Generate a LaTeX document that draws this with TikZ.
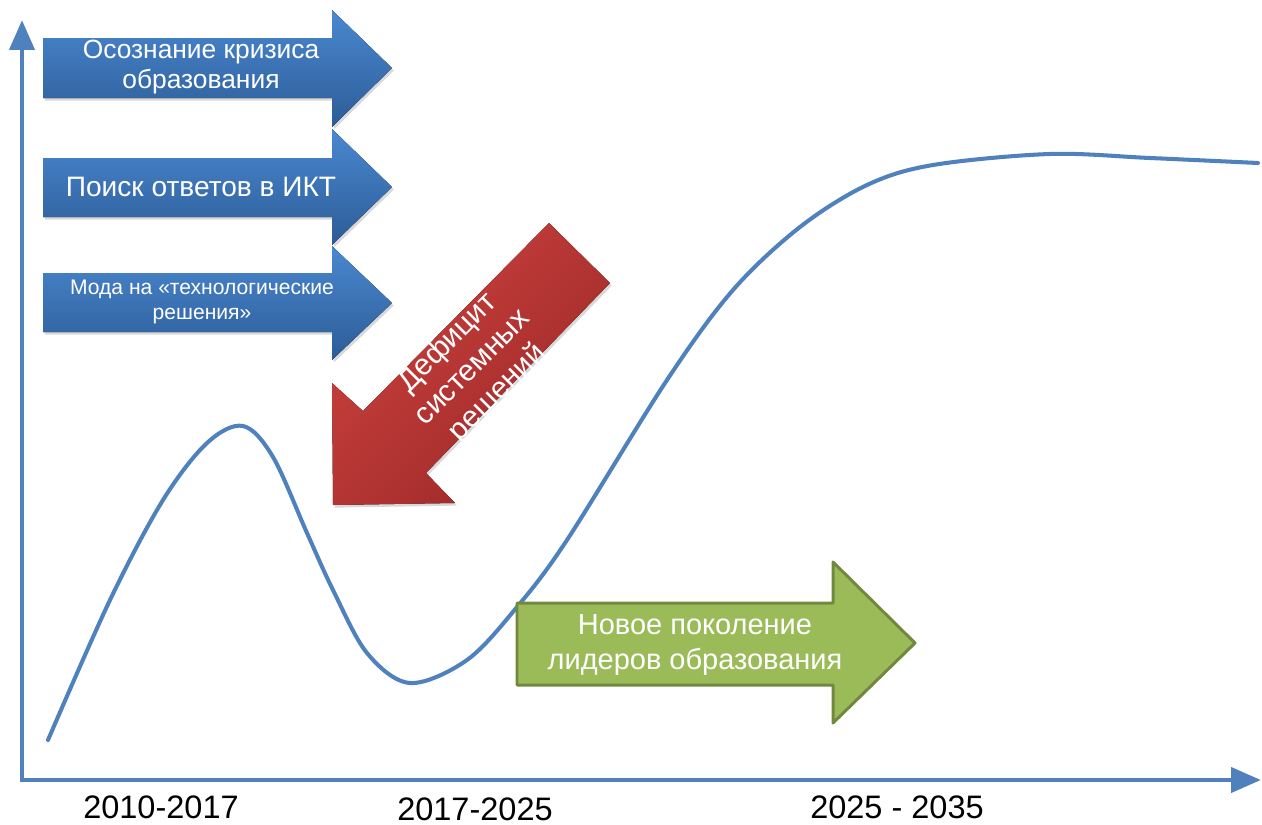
\documentclass[tikz,border=0pt]{standalone}
\usepackage{fontspec}
\setmainfont{Liberation Sans}
\usetikzlibrary{arrows.meta,shadows}
\definecolor{AxisBlue}{HTML}{4F81BD}
\definecolor{BlueTop}{HTML}{4A88D0}
\definecolor{BlueBot}{HTML}{2C5C97}
\definecolor{RedTop}{HTML}{CB423E}
\definecolor{RedBot}{HTML}{9C2828}
\definecolor{GreenFill}{HTML}{9BBB59}
\definecolor{GreenLine}{HTML}{71893F}

\begin{document}
\begin{tikzpicture}[x=0.02cm,y=-0.02cm,
    axis/.style={AxisBlue,line width=2.8pt,{Triangle[length=17pt,width=14pt]}-{Triangle[length=17pt,width=14pt]}},
    curve/.style={AxisBlue,line width=2.3pt,line cap=round},
    bluearrow/.style={top color=BlueTop,bottom color=BlueBot,
        drop shadow={opacity=0.3,shadow xshift=1pt,shadow yshift=-1.5pt}},
    redarrow/.style={top color=RedTop,bottom color=RedBot,shading angle=45,
        drop shadow={opacity=0.3,shadow xshift=1pt,shadow yshift=-1.5pt}},
    greenarrow/.style={fill=GreenFill,draw=GreenLine,line width=1.7pt,line join=round},
    arrowtext/.style={text=white,align=center},
    yearlabel/.style={font=\fontsize{18.5}{22}\selectfont}]
    \useasboundingbox (0,0) rectangle (1262,825);

    % axes
    \coordinate (ytop) at (22,20);
    \coordinate (origin) at (22,780);
    \coordinate (xend) at (1261,780);
    \draw[axis] (ytop) -- (origin) -- (xend);

    % curve
    \draw[curve] plot[smooth,tension=0.55] coordinates {(48,740) (110,600) (163,500) (207,443) (243,426)
        (273,457) (307,533) (333,590) (367,653) (410,683) (467,660) (517,607) (567,540)
        (667,380) (733,290) (800,227) (867,185) (933,165) (1050,154) (1150,158) (1258,163)};

    % blue arrows
    \fill[bluearrow] (43,38) -- (332,38) -- (332,10) -- (392,68) -- (332,127) -- (332,98) -- (43,98) -- cycle;
    \fill[bluearrow] (43,158) -- (332,158) -- (332,129) -- (392,187) -- (332,245) -- (332,217) -- (43,217) -- cycle;
    \fill[bluearrow] (43,273) -- (332,273) -- (332,246) -- (392,303) -- (332,360) -- (332,332) -- (43,332) -- cycle;

    \node[arrowtext,font=\fontsize{15}{17.5}\selectfont] (crisis) at (201,67) {Осознание кризиса\\образования};
    \node[arrowtext,font=\fontsize{16}{19}\selectfont] (search) at (201,187) {Поиск ответов в ИКТ};
    \node[arrowtext,font=\fontsize{12}{14.5}\selectfont] (fashion) at (202,302) {Мода на «технологические\\решения»};

    % red arrow
    \fill[redarrow] (333,505) -- (332,383) -- (363,411) -- (549,223) -- (610,283) -- (426,473) -- (455,503) -- cycle;
    \node[arrowtext,rotate=45,font=\fontsize{17}{20}\selectfont] (deficit) at (473,368) {Дефицит\\системных\\решений};

    % green arrow
    \draw[greenarrow] (517,603) -- (833,603) -- (833,562) -- (915,643) -- (833,723) -- (833,685) -- (517,685) -- cycle;
    \node[arrowtext,font=\fontsize{16.5}{19.5}\selectfont] (leaders) at (695,645) {Новое поколение\\лидеров образования};

    % periods
    \node[yearlabel] (p1) at (161,807) {2010-2017};
    \node[yearlabel] (p2) at (475,809) {2017-2025};
    \node[yearlabel] (p3) at (897,807) {2025 - 2035};
\end{tikzpicture}
\end{document}
